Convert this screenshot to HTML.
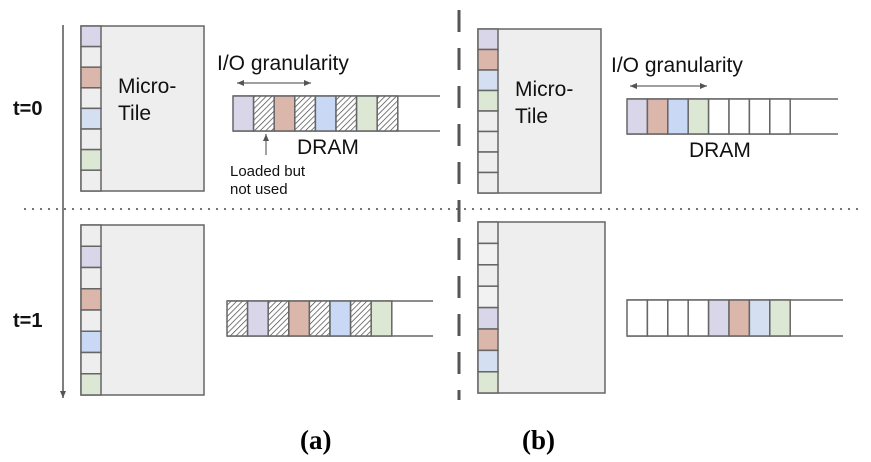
<!DOCTYPE html>
<html><head><meta charset="utf-8"><style>body{margin:0;background:#fff}svg{display:block}</style></head><body>
<svg width="871" height="462" xmlns="http://www.w3.org/2000/svg" font-family="Liberation Sans, sans-serif">
<defs>
<pattern id="h" patternUnits="userSpaceOnUse" width="4" height="4" patternTransform="rotate(45)"><rect width="4" height="4" fill="#fff"/><line x1="0" y1="0" x2="0" y2="4" stroke="#444" stroke-width="1.4"/></pattern>
<marker id="a" markerWidth="8" markerHeight="8" refX="7" refY="4" orient="auto" markerUnits="userSpaceOnUse"><path d="M0,1 L7,4 L0,7 z" fill="#555"/></marker>
<marker id="as" markerWidth="8" markerHeight="8" refX="1" refY="4" orient="auto" markerUnits="userSpaceOnUse"><path d="M8,1 L1,4 L8,7 z" fill="#555"/></marker>
</defs>
<g stroke="#666" stroke-width="1.5">
<line x1="63" y1="25" x2="63" y2="398" marker-end="url(#a)" stroke="#555"/>
<line x1="24" y1="209" x2="860" y2="209" stroke="#777" stroke-width="2" stroke-dasharray="2,6"/>
<line x1="459" y1="10" x2="459" y2="400" stroke="#555" stroke-width="3" stroke-dasharray="22,16"/>

<rect x="81" y="26" width="123" height="165" fill="#eee"/>
<rect x="81" y="26" width="20" height="20.6" fill="#d9d6ea"/>
<rect x="81" y="46.6" width="20" height="20.6" fill="#eee"/>
<rect x="81" y="67.2" width="20" height="20.6" fill="#dbb6ab"/>
<rect x="81" y="87.8" width="20" height="20.6" fill="#eee"/>
<rect x="81" y="108.4" width="20" height="20.6" fill="#d4e0f2"/>
<rect x="81" y="129" width="20" height="20.6" fill="#eee"/>
<rect x="81" y="149.6" width="20" height="20.6" fill="#dde8d4"/>
<rect x="81" y="170.2" width="20" height="20.8" fill="#eee"/>
<line x1="233" y1="96" x2="440" y2="96"/><line x1="233" y1="131" x2="440" y2="131"/>
<rect x="233" y="96" width="20.6" height="35" fill="#d9d6ea"/>
<rect x="253.6" y="96" width="20.6" height="35" fill="url(#h)"/>
<rect x="274.2" y="96" width="20.6" height="35" fill="#dbb6ab"/>
<rect x="294.8" y="96" width="20.6" height="35" fill="url(#h)"/>
<rect x="315.4" y="96" width="20.6" height="35" fill="#c9d8f5"/>
<rect x="336" y="96" width="20.6" height="35" fill="url(#h)"/>
<rect x="356.6" y="96" width="20.6" height="35" fill="#dde8d4"/>
<rect x="377.2" y="96" width="20.6" height="35" fill="url(#h)"/>
<line x1="237" y1="83" x2="311" y2="83" marker-end="url(#a)" marker-start="url(#as)" stroke-width="1.2"/>
<line x1="266" y1="155" x2="266" y2="134" marker-end="url(#a)" stroke-width="1.2"/>

<rect x="81" y="225" width="123" height="170" fill="#eee"/>
<rect x="81" y="225" width="20" height="21.25" fill="#eee"/>
<rect x="81" y="246.25" width="20" height="21.25" fill="#d9d6ea"/>
<rect x="81" y="267.5" width="20" height="21.25" fill="#eee"/>
<rect x="81" y="288.75" width="20" height="21.25" fill="#dbb6ab"/>
<rect x="81" y="310" width="20" height="21.25" fill="#eee"/>
<rect x="81" y="331.25" width="20" height="21.25" fill="#c9d8f5"/>
<rect x="81" y="352.5" width="20" height="21.25" fill="#eee"/>
<rect x="81" y="373.75" width="20" height="21.25" fill="#dde8d4"/>
<line x1="227" y1="301" x2="433" y2="301"/><line x1="227" y1="336" x2="433" y2="336"/>
<rect x="227" y="301" width="20.6" height="35" fill="url(#h)"/>
<rect x="247.6" y="301" width="20.6" height="35" fill="#d9d6ea"/>
<rect x="268.2" y="301" width="20.6" height="35" fill="url(#h)"/>
<rect x="288.8" y="301" width="20.6" height="35" fill="#dbb6ab"/>
<rect x="309.4" y="301" width="20.6" height="35" fill="url(#h)"/>
<rect x="330" y="301" width="20.6" height="35" fill="#c9d8f5"/>
<rect x="350.6" y="301" width="20.6" height="35" fill="url(#h)"/>
<rect x="371.2" y="301" width="20.6" height="35" fill="#dde8d4"/>

<rect x="478" y="29" width="123" height="164" fill="#eee"/>
<rect x="478" y="29" width="20" height="20.5" fill="#d9d6ea"/>
<rect x="478" y="49.5" width="20" height="20.5" fill="#dbb6ab"/>
<rect x="478" y="70" width="20" height="20.5" fill="#d4e0f2"/>
<rect x="478" y="90.5" width="20" height="20.5" fill="#dde8d4"/>
<rect x="478" y="111" width="20" height="20.5" fill="#eee"/>
<rect x="478" y="131.5" width="20" height="20.5" fill="#eee"/>
<rect x="478" y="152" width="20" height="20.5" fill="#eee"/>
<rect x="478" y="172.5" width="20" height="20.5" fill="#eee"/>
<line x1="627" y1="99" x2="838" y2="99"/><line x1="627" y1="134" x2="838" y2="134"/>
<rect x="627" y="99" width="20.4" height="35" fill="#d9d6ea"/>
<rect x="647.4" y="99" width="20.4" height="35" fill="#dbb6ab"/>
<rect x="667.8" y="99" width="20.4" height="35" fill="#c9d8f5"/>
<rect x="688.2" y="99" width="20.4" height="35" fill="#dde8d4"/>
<rect x="708.6" y="99" width="20.4" height="35" fill="#fff"/>
<rect x="729" y="99" width="20.4" height="35" fill="#fff"/>
<rect x="749.4" y="99" width="20.4" height="35" fill="#fff"/>
<rect x="769.8" y="99" width="20.4" height="35" fill="#fff"/>
<line x1="630" y1="86" x2="707" y2="86" marker-end="url(#a)" marker-start="url(#as)" stroke-width="1.2"/>

<rect x="478" y="222" width="127" height="171" fill="#eee"/>
<rect x="478" y="222" width="20" height="21.4" fill="#eee"/>
<rect x="478" y="243.4" width="20" height="21.4" fill="#f2f2f2"/>
<rect x="478" y="264.8" width="20" height="21.4" fill="#eee"/>
<rect x="478" y="286.2" width="20" height="21.4" fill="#f2f2f2"/>
<rect x="478" y="307.6" width="20" height="21.4" fill="#d9d6ea"/>
<rect x="478" y="329" width="20" height="21.4" fill="#dbb6ab"/>
<rect x="478" y="350.4" width="20" height="21.4" fill="#d4e0f2"/>
<rect x="478" y="371.8" width="20" height="21.2" fill="#dde8d4"/>
<line x1="627" y1="300" x2="843" y2="300"/><line x1="627" y1="336" x2="843" y2="336"/>
<rect x="627" y="300" width="20.4" height="36" fill="#fff"/>
<rect x="647.4" y="300" width="20.4" height="36" fill="#fff"/>
<rect x="667.8" y="300" width="20.4" height="36" fill="#fff"/>
<rect x="688.2" y="300" width="20.4" height="36" fill="#fff"/>
<rect x="708.6" y="300" width="20.4" height="36" fill="#d9d6ea"/>
<rect x="729" y="300" width="20.4" height="36" fill="#dbb6ab"/>
<rect x="749.4" y="300" width="20.4" height="36" fill="#d4e0f2"/>
<rect x="769.8" y="300" width="20.4" height="36" fill="#dde8d4"/>
</g>
<g fill="#111" font-size="21">
<text x="118" y="93">Micro-</text><text x="118" y="120">Tile</text>
<text x="217" y="70">I/O granularity</text>
<text x="297" y="154">DRAM</text>
<text x="515" y="96">Micro-</text><text x="515" y="123">Tile</text>
<text x="611" y="72">I/O granularity</text>
<text x="689" y="157">DRAM</text>
<text x="230" y="176" font-size="15">Loaded but</text>
<text x="230" y="194" font-size="15">not used</text>
<text x="13" y="115" font-size="20" font-weight="bold">t=0</text>
<text x="13" y="327" font-size="20" font-weight="bold">t=1</text>
</g>
<text x="300" y="449" font-family="Liberation Serif, serif" font-weight="bold" font-size="27">(a)</text>
<text x="522" y="449" font-family="Liberation Serif, serif" font-weight="bold" font-size="27">(b)</text>
</svg>
</body></html>
